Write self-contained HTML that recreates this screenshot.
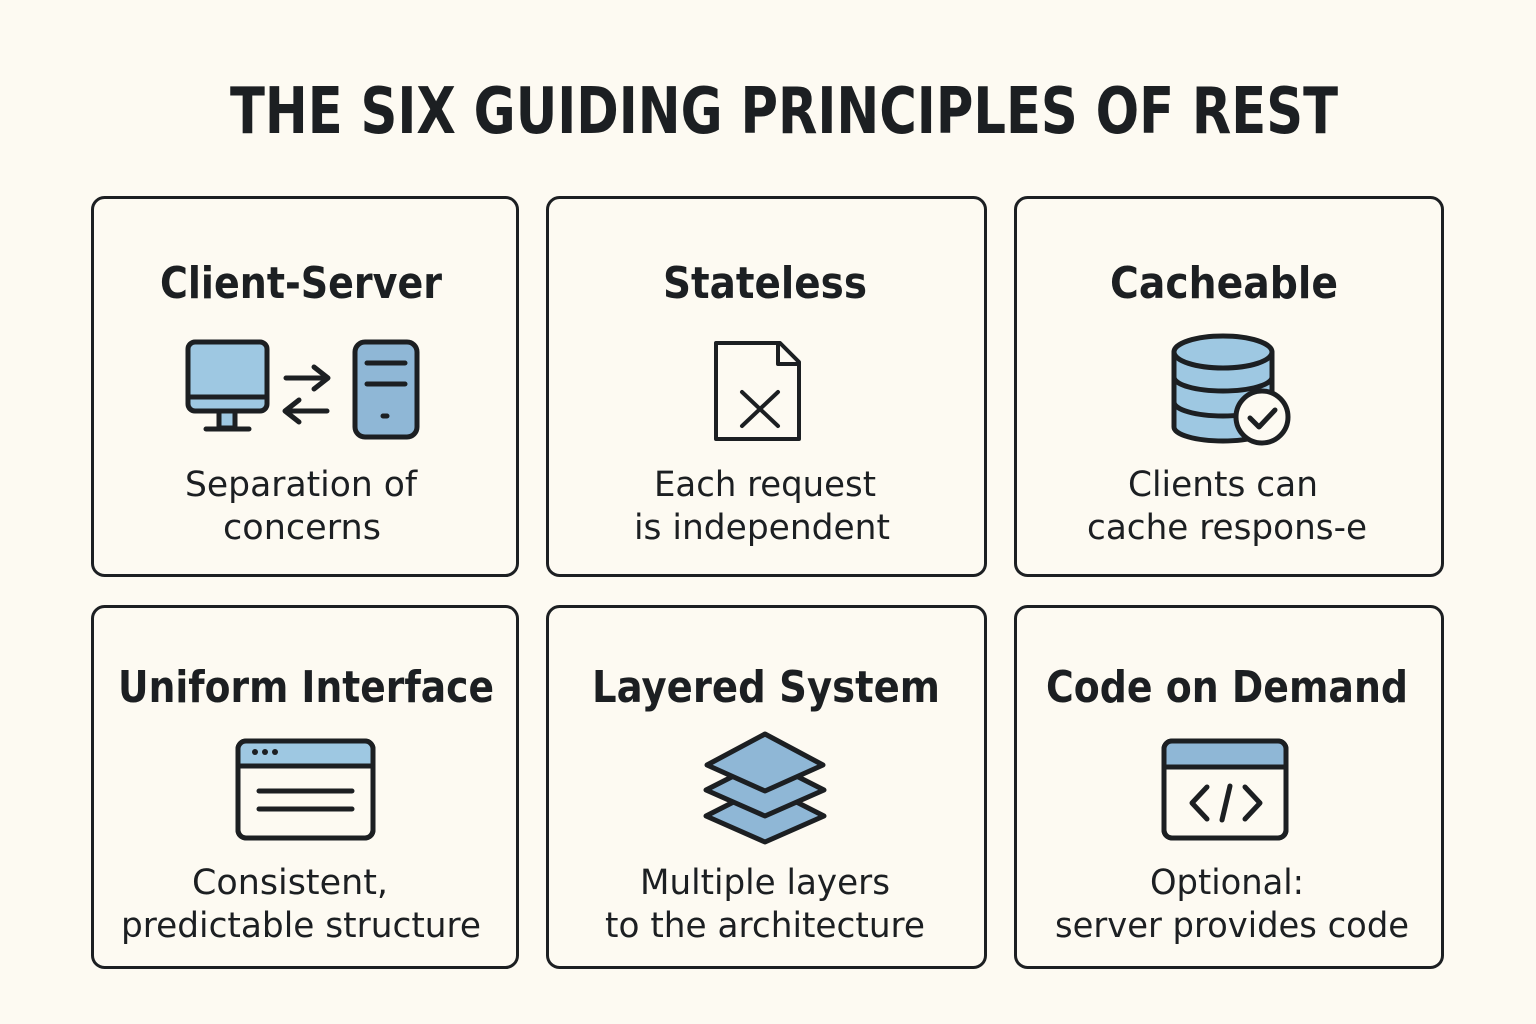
<!DOCTYPE html>
<html><head><meta charset="utf-8"><style>
html,body{margin:0;padding:0;background:#fdfaf2;}
svg{display:block}
text{font-family:"DejaVu Sans","Liberation Sans",sans-serif;fill:#1c1f22;}
.h{font-weight:bold;font-size:44px;}
.d{font-size:35px;}
</style></head><body>
<svg width="1536" height="1024" viewBox="0 0 1536 1024" xmlns="http://www.w3.org/2000/svg">
<rect width="1536" height="1024" fill="#fdfaf2"/>
<text x="784" y="133" text-anchor="middle" font-weight="bold" font-size="64" textLength="1108" lengthAdjust="spacingAndGlyphs">THE SIX GUIDING PRINCIPLES OF REST</text>
<g fill="none" stroke="#1c1f22" stroke-width="3">
<rect x="92.5" y="197.5" width="425" height="378" rx="12"/>
<rect x="547.5" y="197.5" width="438" height="378" rx="12"/>
<rect x="1015.5" y="197.5" width="427" height="378" rx="12"/>
<rect x="92.5" y="606.5" width="425" height="361" rx="12"/>
<rect x="547.5" y="606.5" width="438" height="361" rx="12"/>
<rect x="1015.5" y="606.5" width="427" height="361" rx="12"/>
</g>
<!-- headings -->
<text class="h" x="301" y="298" text-anchor="middle" textLength="282" lengthAdjust="spacingAndGlyphs">Client-Server</text>
<text class="h" x="765" y="298" text-anchor="middle" textLength="204" lengthAdjust="spacingAndGlyphs">Stateless</text>
<text class="h" x="1224" y="298" text-anchor="middle" textLength="228" lengthAdjust="spacingAndGlyphs">Cacheable</text>
<text class="h" x="306" y="702" text-anchor="middle" textLength="376" lengthAdjust="spacingAndGlyphs">Uniform Interface</text>
<text class="h" x="766" y="702" text-anchor="middle" textLength="348" lengthAdjust="spacingAndGlyphs">Layered System</text>
<text class="h" x="1227" y="702" text-anchor="middle" textLength="362" lengthAdjust="spacingAndGlyphs">Code on Demand</text>
<!-- descriptions -->
<text class="d" x="301" y="496" text-anchor="middle" textLength="232" lengthAdjust="spacingAndGlyphs">Separation of</text>
<text class="d" x="302" y="539" text-anchor="middle" textLength="158" lengthAdjust="spacingAndGlyphs">concerns</text>
<text class="d" x="765" y="496" text-anchor="middle" textLength="222" lengthAdjust="spacingAndGlyphs">Each request</text>
<text class="d" x="762" y="539" text-anchor="middle" textLength="256" lengthAdjust="spacingAndGlyphs">is independent</text>
<text class="d" x="1223" y="496" text-anchor="middle" textLength="190" lengthAdjust="spacingAndGlyphs">Clients can</text>
<text class="d" x="1227" y="539" text-anchor="middle" textLength="280" lengthAdjust="spacingAndGlyphs">cache respons-e</text>
<text class="d" x="290" y="894" text-anchor="middle" textLength="196" lengthAdjust="spacingAndGlyphs">Consistent,</text>
<text class="d" x="301" y="937" text-anchor="middle" textLength="360" lengthAdjust="spacingAndGlyphs">predictable structure</text>
<text class="d" x="765" y="894" text-anchor="middle" textLength="250" lengthAdjust="spacingAndGlyphs">Multiple layers</text>
<text class="d" x="765" y="937" text-anchor="middle" textLength="320" lengthAdjust="spacingAndGlyphs">to the architecture</text>
<text class="d" x="1227" y="894" text-anchor="middle" textLength="154" lengthAdjust="spacingAndGlyphs">Optional:</text>
<text class="d" x="1232" y="937" text-anchor="middle" textLength="354" lengthAdjust="spacingAndGlyphs">server provides code</text>

<g stroke="#1c1f22" stroke-width="5" stroke-linejoin="round" stroke-linecap="round">
<!-- monitor -->
<rect x="188" y="342" width="79" height="69" rx="7" fill="#9ec8e2"/>
<line x1="188" y1="397" x2="267" y2="397"/>
<rect x="219" y="411" width="16" height="17" fill="#9ec8e2"/>
<line x1="206" y1="429" x2="249" y2="429"/>
<!-- arrows -->
<path d="M286 378 H327 M314 367 L328 378 L314 389" fill="none"/>
<path d="M327 411 H286 M299 400 L285 411 L299 422" fill="none"/>
<!-- server -->
<rect x="355" y="342" width="62" height="95" rx="10" fill="#8fb7d6"/>
<line x1="367" y1="363" x2="405" y2="363"/>
<line x1="367" y1="384" x2="405" y2="384"/>
<line x1="383" y1="416" x2="387" y2="416"/>
<!-- stateless doc -->
<path d="M716 343 H780 L799 362 V439 H716 Z" fill="#fdfaf2" stroke-width="4"/>
<path d="M778 343 V364 H799" fill="none" stroke-width="4"/>
<path d="M742 392 L778 426 M778 392 L742 426" fill="none" stroke-width="4"/>
<!-- database -->
<path d="M1174 352 V427 A49 14 0 0 0 1272 427 V352" fill="#9ec8e2"/>
<ellipse cx="1223" cy="352" rx="49" ry="16" fill="#9ec8e2"/>
<path d="M1174 377 A49 14 0 0 0 1272 377 M1174 402 A49 14 0 0 0 1272 402" fill="none"/>
<circle cx="1262" cy="417" r="26" fill="#fdfaf2"/>
<path d="M1250 418 L1259 427 L1275 410" fill="none"/>
<!-- browser uniform -->
<rect x="238" y="741" width="135" height="97" rx="8" fill="#fdfaf2"/>
<path d="M243 743 H368 Q372 743 372 748 V764 H239 V748 Q239 743 243 743Z" fill="#9ec8e2" stroke="none"/>
<rect x="238" y="741" width="135" height="97" rx="8" fill="none"/>
<line x1="238" y1="766" x2="373" y2="766"/>
<line x1="259" y1="791" x2="352" y2="791"/>
<line x1="259" y1="809" x2="352" y2="809"/>
<!-- layers -->
<path d="M765 786 L824 816 L765 842 L706 816 Z" fill="#8fb7d6"/>
<path d="M765 760 L824 790 L765 816 L706 790 Z" fill="#8fb7d6"/>
<path d="M765 734 L823 765 L765 791 L707 765 Z" fill="#8fb7d6"/>
<!-- code window -->
<rect x="1164" y="741" width="122" height="97" rx="8" fill="#fdfaf2"/>
<path d="M1170 743 H1280 Q1284 743 1284 748 V765 H1166 V748 Q1166 743 1170 743Z" fill="#8fb7d6" stroke="none"/>
<rect x="1164" y="741" width="122" height="97" rx="8" fill="none"/>
<line x1="1164" y1="767" x2="1286" y2="767"/>
<path d="M1207 787 L1192 803 L1207 819 M1245 787 L1260 803 L1245 819 M1230 786 L1222 820" fill="none"/>
</g>
<g fill="#1c1f22">
<circle cx="255" cy="752" r="3"/><circle cx="265" cy="752" r="3"/><circle cx="275" cy="752" r="3"/>
</g>
</svg>
</body></html>
